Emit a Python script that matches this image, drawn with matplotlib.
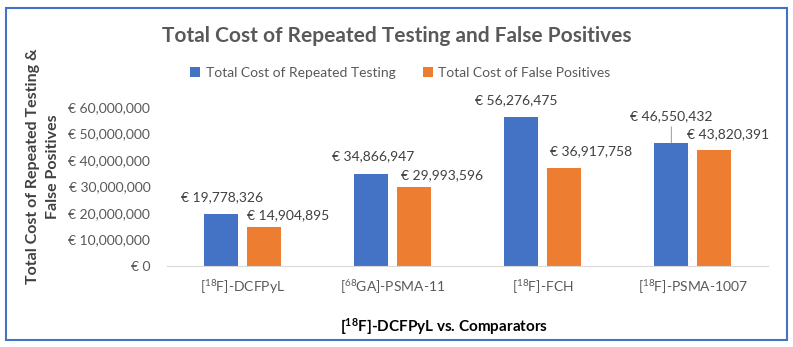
"""Total cost of repeated testing and false positives, grouped bars."""

import matplotlib
matplotlib.use('Agg')
import matplotlib.pyplot as plt
from matplotlib.patches import Rectangle
from matplotlib.ticker import FuncFormatter
import numpy as np

plt.rcParams['font.family'] = ['Lato', 'DejaVu Sans']
plt.rcParams['mathtext.fontset'] = 'custom'
plt.rcParams['mathtext.rm'] = 'Lato'
plt.rcParams['mathtext.it'] = 'Lato:italic'
plt.rcParams['mathtext.bf'] = 'Lato:bold'

categories = ['[$^{18}$F]-DCFPyL', '[$^{68}$GA]-PSMA-11',
              '[$^{18}$F]-FCH', '[$^{18}$F]-PSMA-1007']
repeated_testing = [19778326, 34866947, 56276475, 46550432]
false_positives = [14904895, 29993596, 36917758, 43820391]
series_names = ['Total Cost of Repeated Testing', 'Total Cost of False Positives']

BLUE = '#4472C4'
ORANGE = '#ED7D31'
GRAY = '#595959'

# label nudges in pixels, (dx, dy) from top centre of each bar to label centre
blue_offsets = [(1, 16), (2, 17), (-5, 17), (0, 26)]
orange_offsets = [(25, 11), (28, 11), (27, 17), (14, 16)]
blue_leader = [False, False, False, True]

fig = plt.figure(figsize=(7.93, 3.47), dpi=100)
ax = fig.add_axes([0.2106, 0.2334, 0.7579, 0.4582])

x = np.arange(len(categories))
width = 0.227
shift = 0.143
bars_b = ax.bar(x - shift, repeated_testing, width, color=BLUE,
                label=series_names[0])
bars_o = ax.bar(x + shift, false_positives, width, color=ORANGE,
                label=series_names[1])

for bars, offsets, leaders in ((bars_b, blue_offsets, blue_leader),
                               (bars_o, orange_offsets, [False] * 4)):
    for bar, (dx, dy), lead in zip(bars, offsets, leaders):
        h = bar.get_height()
        cx = bar.get_x() + bar.get_width() / 2
        arrow = None
        if lead:
            arrow = dict(arrowstyle='-', color='#A6A6A6', lw=0.8,
                         shrinkA=1, shrinkB=0)
        ax.annotate(f'€ {h:,.0f}', xy=(cx, h), xytext=(dx, dy),
                    textcoords='offset pixels', ha='center', va='center',
                    fontsize=10, color='#404040', arrowprops=arrow,
                    annotation_clip=False)

ax.set_xlim(-0.5, len(categories) - 0.5)
ax.set_ylim(0, 60000000)
ax.set_yticks(np.arange(0, 60000001, 10000000))
ax.yaxis.set_major_formatter(FuncFormatter(lambda v, p: f'€ {v:,.0f}'))
ax.set_xticks(x)
ax.set_xticklabels(categories)
ax.tick_params(length=0, labelsize=10, colors=GRAY)
ax.tick_params(axis='y', pad=12)
ax.tick_params(axis='x', pad=9)
for side in ('top', 'right', 'left'):
    ax.spines[side].set_visible(False)
ax.spines['bottom'].set_color('#D9D9D9')

fig.text(0.5, 0.897, 'Total Cost of Repeated Testing and False Positives',
         ha='center', va='center', fontsize=15, fontweight='bold',
         color=GRAY)
fig.text(0.054, 0.52, 'Total Cost of Repeated Testing &\nFalse Positives',
         rotation=90, ha='center', va='center', fontsize=11.5,
         fontweight='bold', color='#404040', linespacing=1.6)
fig.text(0.56, 0.058, '[$^{\\mathbf{18}}$F]-DCFPyL vs. Comparators',
         ha='center', va='center', fontsize=11, fontweight='bold',
         color='black')

fig.legend(loc='center', bbox_to_anchor=(0.505, 0.79), ncol=2,
           frameon=False, fontsize=10, handlelength=0.7, handleheight=0.7,
           columnspacing=2.0, handletextpad=0.4, labelcolor=GRAY)

fig.patches.append(Rectangle((0.008, 0.02), 0.984, 0.958,
                             transform=fig.transFigure, fill=False,
                             edgecolor=BLUE, linewidth=1.5))

fig.savefig('out.png', dpi=100)
